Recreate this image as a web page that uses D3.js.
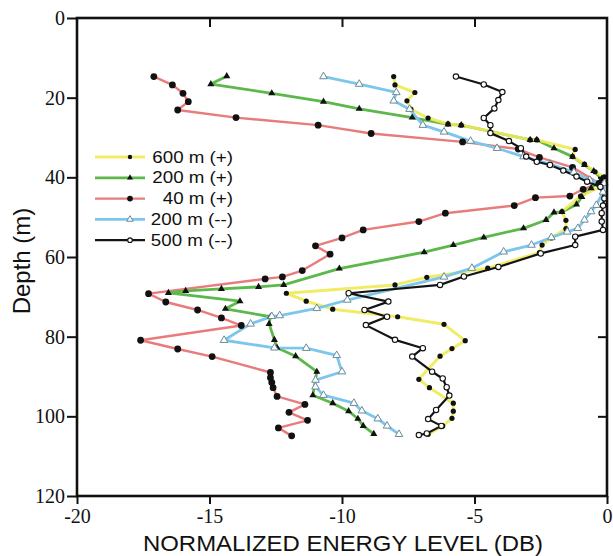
<!DOCTYPE html>
<html>
<head>
<meta charset="utf-8">
<script src="https://cdn.jsdelivr.net/npm/d3@7"></script>
<style>
  html, body { margin: 0; padding: 0; background: #fff; }
  svg { display: block; }
</style>
</head>
<body>
<svg id="chart" width="613" height="556"></svg>
<script>
// ---------- DATA ----------
const xTicks = [-20, -15, -10, -5, 0];
const yTicks = [0, 20, 40, 60, 80, 100, 120];
const seriesNames = ["600 m (+)", "200 m (+)", "40 m (+)", "200 m (--)", "500 m (--)"];

// 600 m (+)
const level600p = [-8.05,-8.0,-7.25,-7.55,-7.4,-6.75,-6.0,-5.5,-2.9,-2.65,-1.2,-1.3,-0.85,-0.45,-0.1,-0.25,-1.0,-1.7,-1.55,-1.55,-2.1,-2.45,-2.55,-4.5,-6.8,-8.0,-12.1,-11.35,-10.35,-7.9,-6.15,-5.35,-5.85,-6.3,-7.1,-6.7,-5.8,-5.8,-5.85,-6.2,-6.75];
const depth600p = [14.7,16.8,18.7,20.8,22.9,25.1,26.6,26.9,30.6,30.6,33.0,34.8,36.7,38.6,39.9,42.4,44.7,48.6,50.8,52.9,55.2,57.0,58.9,62.8,65.1,67.0,69.1,71.1,73.1,75.0,76.9,81.0,83.0,84.9,90.7,92.8,96.7,98.7,100.5,102.4,104.5];

// 200 m (+)
const level200p = [-14.35,-14.95,-12.65,-10.7,-9.35,-7.35,-6.0,-5.5,-2.9,-2.65,-2.0,-1.3,-0.85,-0.5,-0.2,-0.6,-0.95,-1.15,-1.7,-2.0,-2.3,-3.15,-4.65,-5.8,-6.9,-10.1,-12.2,-13.15,-14.55,-15.9,-16.55,-13.85,-14.4,-12.7,-12.75,-12.55,-12.45,-11.75,-10.95,-11.1,-10.35,-9.75,-9.4,-9.2,-8.8];
const depth200p = [14.6,16.6,18.9,21.0,22.8,25.0,26.7,26.9,30.6,30.6,32.7,34.8,36.9,38.4,40.4,42.7,44.9,46.8,48.7,48.8,50.7,52.8,55.1,57.0,58.8,62.9,67.0,67.5,68.0,68.5,69.0,71.1,73.0,75.0,76.8,80.8,82.8,84.9,88.8,94.7,96.7,98.7,100.6,102.4,104.4];

// 40 m (+)
const level40p = [-17.1,-16.4,-16.0,-15.8,-16.2,-14.0,-10.9,-8.9,-5.45,-3.35,-2.55,-1.3,-0.3,-0.9,-1.4,-2.7,-3.5,-6.1,-7.1,-9.2,-10.0,-11.0,-10.45,-11.5,-12.25,-12.9,-17.3,-16.65,-15.45,-14.55,-13.8,-17.6,-16.2,-14.9,-12.7,-12.7,-12.65,-12.6,-12.45,-11.4,-12.0,-11.3,-12.4,-11.9];
const depth40p = [14.7,16.8,18.9,21.0,23.1,25.0,26.9,29.0,31.1,32.9,35.0,37.5,41.5,43.0,44.7,45.1,47.1,49.0,51.1,53.2,55.2,57.2,59.3,63.4,65.0,65.5,69.2,71.3,73.3,75.3,77.2,80.9,83.1,85.0,89.0,90.3,91.5,92.8,95.0,97.0,99.0,101.0,102.9,104.9];

// 200 m (--)
const level200m = [-10.7,-9.35,-7.95,-8.05,-7.45,-6.95,-6.15,-5.15,-4.15,-3.15,-2.15,-1.25,-0.65,-0.1,-0.15,-0.4,-0.6,-0.85,-1.1,-1.5,-2.1,-2.85,-3.9,-5.1,-6.15,-9.8,-10.95,-12.35,-12.65,-13.45,-14.45,-12.55,-11.35,-10.2,-10.0,-11.0,-11.0,-10.7,-9.55,-9.25,-8.65,-8.3,-7.85];
const depth200m = [14.7,16.6,18.7,20.8,22.9,26.9,28.6,30.9,32.7,34.8,36.7,38.7,40.7,41.5,43.7,47.0,48.6,50.7,52.8,53.7,55.1,57.0,58.7,62.8,65.0,70.8,72.9,74.7,74.9,76.8,80.9,82.8,82.9,84.7,88.8,90.9,92.6,94.7,96.7,98.6,100.6,102.4,104.5];

// 500 m (--)
const level500m = [-5.7,-4.65,-3.95,-4.1,-4.25,-4.65,-4.4,-4.4,-3.7,-3.25,-3.05,-2.65,-2.15,-1.65,-1.15,-0.75,-0.25,-0.1,-0.15,-0.2,-0.2,-0.15,-1.2,-1.2,-2.5,-4.1,-5.4,-6.3,-9.75,-8.25,-9.15,-8.3,-9.1,-8.0,-6.95,-7.35,-6.6,-6.2,-6.05,-5.95,-6.45,-6.75,-6.25,-6.8,-7.1];
const depth500m = [14.7,16.7,18.6,20.6,22.7,25.1,26.9,28.9,30.9,32.7,34.8,36.1,36.9,38.3,39.8,41.1,42.4,45.3,47.1,49.0,51.1,53.2,54.9,57.0,59.1,62.5,64.9,67.0,69.1,71.2,73.3,75.0,77.1,80.8,82.9,85.0,88.8,90.5,92.7,94.8,98.4,100.7,102.4,104.3,104.7];

// ---------- STYLE ----------
const styles = {
  "600 m (+)":  { color: "#eeea55", width: 3,   marker: "dot",      r: 2.6, opacity: 0.9 },
  "200 m (+)":  { color: "#5cb84a", width: 2.8, marker: "triangle", r: 2.6, opacity: 1 },
  "40 m (+)":   { color: "#e87c7c", width: 2.4, marker: "dot",      r: 3.4, opacity: 1 },
  "200 m (--)": { color: "#7cc6ec", width: 2.8, marker: "opentri",  r: 2.8, opacity: 1 },
  "500 m (--)": { color: "#141414", width: 2.2, marker: "opencirc", r: 2.7, opacity: 1 }
};

const seriesData = {
  "600 m (+)":  d3.zip(level600p, depth600p),
  "200 m (+)":  d3.zip(level200p, depth200p),
  "40 m (+)":   d3.zip(level40p, depth40p),
  "200 m (--)": d3.zip(level200m, depth200m),
  "500 m (--)": d3.zip(level500m, depth500m)
};

const svg = d3.select("#chart");
const x = d3.scaleLinear().domain([-20, 0]).range([77, 607]);
const y = d3.scaleLinear().domain([0, 120]).range([18, 496]);

// draw order
const drawOrder = ["40 m (+)", "200 m (+)", "600 m (+)", "200 m (--)", "500 m (--)"];
const line = d3.line().x(d => x(d[0])).y(d => y(d[1]));

const plot = svg.append("g");
drawOrder.forEach(name => {
  const s = styles[name];
  plot.append("path")
    .datum(seriesData[name])
    .attr("d", line)
    .attr("fill", "none")
    .attr("stroke", s.color)
    .attr("stroke-width", s.width)
    .attr("stroke-opacity", s.opacity)
    .attr("stroke-linejoin", "round");
});

function drawMarker(g, type, cx, cy, r) {
  if (type === "dot") {
    g.append("circle").attr("cx", cx).attr("cy", cy).attr("r", r).attr("fill", "#111");
  } else if (type === "triangle") {
    g.append("path").attr("d", d3.symbol(d3.symbolTriangle, r * r * 3.2)())
      .attr("transform", `translate(${cx},${cy})`).attr("fill", "#111");
  } else if (type === "opentri") {
    g.append("path").attr("d", d3.symbol(d3.symbolTriangle, r * r * 3.2)())
      .attr("transform", `translate(${cx},${cy})`).attr("fill", "#fff")
      .attr("stroke", "#6a8a9a").attr("stroke-width", 1);
  } else if (type === "opencirc") {
    g.append("circle").attr("cx", cx).attr("cy", cy).attr("r", r)
      .attr("fill", "#fff").attr("stroke", "#111").attr("stroke-width", 1.1);
  }
}

drawOrder.forEach(name => {
  const s = styles[name];
  const g = plot.append("g");
  seriesData[name].forEach(d => drawMarker(g, s.marker, x(d[0]), y(d[1]), s.r));
});

// ---------- AXES ----------
const fmt = d => String(d);
const leftAxis = svg.append("g").attr("transform", "translate(77,0)")
  .call(d3.axisLeft(y).tickValues(yTicks).tickSize(10).tickPadding(2).tickFormat(fmt));
const bottomAxis = svg.append("g").attr("transform", "translate(0,496)")
  .call(d3.axisBottom(x).tickValues(xTicks).tickSize(8).tickPadding(5).tickFormat(fmt));
const topAxis = svg.append("g").attr("transform", "translate(0,18)")
  .call(d3.axisTop(x).tickValues([-15, -10, -5]).tickSize(-9).tickFormat(""));
const rightAxis = svg.append("g").attr("transform", "translate(607,0)")
  .call(d3.axisRight(y).tickValues([20, 40, 60, 80, 100]).tickSize(-9).tickFormat(""));

[leftAxis, bottomAxis, topAxis, rightAxis].forEach(g => {
  g.select(".domain").remove();
  g.selectAll(".tick line").attr("stroke", "#111").attr("stroke-width", 2);
  g.selectAll(".tick text")
    .attr("font-family", "'Liberation Serif', 'Times New Roman', serif")
    .attr("font-size", 20)
    .attr("fill", "#111");
});

svg.append("rect")
  .attr("x", x(-20)).attr("y", y(0))
  .attr("width", x(0) - x(-20)).attr("height", y(120) - y(0))
  .attr("fill", "none").attr("stroke", "#111").attr("stroke-width", 2.6);

// ---------- TITLES ----------
svg.append("text")
  .attr("x", 343).attr("y", 551)
  .attr("text-anchor", "middle")
  .attr("font-family", "'Liberation Sans', Arial, sans-serif")
  .attr("font-size", 22)
  .attr("fill", "#111")
  .attr("textLength", 400)
  .attr("lengthAdjust", "spacingAndGlyphs")
  .text("NORMALIZED ENERGY LEVEL (DB)");

svg.append("text")
  .attr("transform", "translate(30,261) rotate(-90)")
  .attr("text-anchor", "middle")
  .attr("font-family", "'Liberation Sans', Arial, sans-serif")
  .attr("font-size", 24)
  .attr("fill", "#111")
  .text("Depth (m)");

// ---------- LEGEND ----------
const legendTop = 157, legendStep = 20.8;
const legend = svg.append("g");
seriesNames.forEach((name, i) => {
  const s = styles[name];
  const ly = legendTop + i * legendStep;
  legend.append("line")
    .attr("x1", 95).attr("x2", 145).attr("y1", ly).attr("y2", ly)
    .attr("stroke", s.color).attr("stroke-width", s.width).attr("stroke-opacity", s.opacity);
  drawMarker(legend, s.marker, 130, ly, s.r * 0.85);
  const t = legend.append("text")
    .attr("x", 233).attr("y", ly + 5.5)
    .attr("text-anchor", "end")
    .attr("font-family", "'Liberation Sans', Arial, sans-serif")
    .attr("font-size", 16)
    .attr("fill", "#111")
    .text(name);
  const natural = t.node().getComputedTextLength();
  t.attr("textLength", natural * 1.17).attr("lengthAdjust", "spacingAndGlyphs");
});
</script>
</body>
</html>
